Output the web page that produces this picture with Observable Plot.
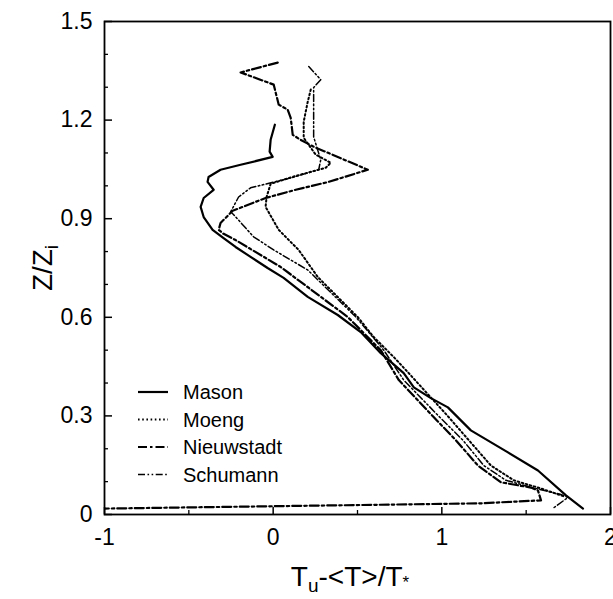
<!DOCTYPE html>
<html><head><meta charset="utf-8">
<script src="https://cdn.jsdelivr.net/npm/d3@7"></script>
<script src="https://cdn.jsdelivr.net/npm/@observablehq/plot@0.6"></script>
<style>html,body{margin:0;padding:0;background:#fff;overflow:hidden;}</style>
</head><body><div id="chart"></div>
<script>
const seriesNames = ["Mason", "Moeng", "Nieuwstadt", "Schumann"];

const masonX = [0.01,-0.015,-0.021,-0.003,-0.193,-0.312,-0.383,-0.389,-0.353,-0.412,-0.430,-0.412,-0.359,-0.294,-0.223,-0.134,-0.033,0.062,0.205,0.383,0.519,0.638,0.774,0.834,0.935,1.036,1.172,1.392,1.570,1.736,1.837];
const masonZ = [1.186,1.140,1.104,1.088,1.064,1.049,1.027,1.012,0.988,0.963,0.936,0.905,0.866,0.841,0.814,0.784,0.750,0.720,0.662,0.607,0.555,0.491,0.430,0.387,0.354,0.326,0.256,0.189,0.134,0.058,0.018];

const moengX = [0.223,0.205,0.181,0.181,0.252,0.341,0.312,0.134,-0.015,-0.039,-0.045,0.033,0.151,0.264,0.359,0.501,0.596,0.715,0.804,1.036,1.160,1.291,1.427,1.588,1.724];
const moengZ = [1.293,1.256,1.195,1.146,1.095,1.070,1.055,1.030,1.006,0.966,0.936,0.866,0.805,0.723,0.674,0.601,0.540,0.479,0.430,0.299,0.226,0.149,0.104,0.079,0.055];

const nieuwstadtX = [0.027,-0.193,0.003,0.033,0.086,0.104,0.116,0.163,0.240,0.561,0.329,0.134,-0.045,-0.240,-0.312,-0.323,-0.294,-0.223,-0.056,0.045,0.228,0.442,0.638,0.745,0.947,1.083,1.214,1.350,1.528,1.570,1.588,1.231,-1.0];
const nieuwstadtZ = [1.375,1.345,1.308,1.247,1.232,1.207,1.155,1.140,1.119,1.049,1.012,0.988,0.963,0.924,0.887,0.866,0.854,0.835,0.784,0.753,0.683,0.601,0.500,0.409,0.299,0.226,0.149,0.098,0.082,0.073,0.043,0.034,0.018];

const schumannX = [0.211,0.282,0.240,0.240,0.240,0.282,0.270,0.104,-0.134,-0.205,-0.252,-0.234,-0.116,0.003,0.205,0.490,0.656,0.774,0.982,1.125,1.249,1.380,1.558,1.706,1.748,1.665];
const schumannZ = [1.363,1.323,1.299,1.262,1.149,1.079,1.049,1.024,0.994,0.966,0.921,0.912,0.845,0.805,0.744,0.601,0.500,0.409,0.299,0.226,0.149,0.104,0.079,0.061,0.052,0.021];

const xTicks = [-1, 0, 1, 2];
const xMinorTicks = [-0.5, 0.5, 1.5];
const yTicks = [0, 0.3, 0.6, 0.9, 1.2, 1.5];
const yMinorTicks = [0.1, 0.2, 0.4, 0.5, 0.7, 0.8, 1.0, 1.1, 1.3, 1.4];

const xs = [masonX, moengX, nieuwstadtX, schumannX];
const zs = [masonZ, moengZ, nieuwstadtZ, schumannZ];
const rows = [];
seriesNames.forEach((s, i) => xs[i].forEach((x, j) => rows.push({series: s, x, z: zs[i][j]})));

const styles = {
  Mason: {strokeWidth: 2.2, dash: null},
  Moeng: {strokeWidth: 2, dash: "1.6,2.6"},
  Nieuwstadt: {strokeWidth: 2.2, dash: "9,3,2.5,3"},
  Schumann: {strokeWidth: 1.5, dash: "7,2.5,1.6,2.5,1.6,2.5"}
};

const font = "'Liberation Sans', Arial, Helvetica, sans-serif";

const lineMarks = seriesNames.map(s => Plot.line(rows.filter(r => r.series === s), {
  x: "x", y: "z", stroke: "black", strokeWidth: styles[s].strokeWidth,
  strokeDasharray: styles[s].dash, curve: "linear", clip: true
}));

const chart = Plot.plot({
  width: 613, height: 599,
  marginLeft: 104, marginRight: 3, marginTop: 21, marginBottom: 85,
  x: {domain: [-1, 2]},
  y: {domain: [0, 1.5]},
  style: {fontFamily: font, background: "white", color: "black"},
  marks: [
    Plot.axisY({ticks: yTicks, tickSize: -8, tickPadding: 20, fontSize: 23, tickFormat: d => d === 0 ? "0" : d.toFixed(1), label: null, strokeWidth: 1.5}),
    Plot.axisY({ticks: yMinorTicks, tickSize: -4, tickFormat: () => "", label: null, strokeWidth: 1.3}),
    Plot.axisX({ticks: xTicks, tickSize: -7, tickPadding: 21, fontSize: 23, tickFormat: d => String(d), label: null, strokeWidth: 1.5}),
    Plot.axisX({ticks: xMinorTicks, tickSize: -4, tickFormat: () => "", label: null, strokeWidth: 1.3}),
    ...lineMarks,
    Plot.frame({stroke: "black", strokeWidth: 1.8})
  ]
});
document.getElementById("chart").appendChild(chart);

const svg = d3.select(chart);
// x axis title
const xt = svg.append("text").attr("x", 350).attr("y", 586).attr("text-anchor", "middle")
  .attr("font-family", font).attr("font-size", 28).attr("fill", "black");
xt.append("tspan").text("T");
xt.append("tspan").attr("font-size", 19).attr("dy", 6).text("u");
xt.append("tspan").attr("dy", -6).text("-<T>/T");
xt.append("tspan").attr("font-size", 17).attr("dy", 2).text("*");
// y axis title
const yt = svg.append("text").attr("transform", "translate(52,268) rotate(-90)").attr("text-anchor", "middle")
  .attr("font-family", font).attr("font-size", 28).attr("fill", "black");
yt.append("tspan").text("Z/Z");
yt.append("tspan").attr("font-size", 19).attr("dy", 6).text("i");
// legend
const lg = svg.append("g").attr("font-family", font).attr("font-size", 20).attr("text-anchor", "start");
seriesNames.forEach((s, i) => {
  const y = 392 + 27.5 * i;
  lg.append("line").attr("x1", 138).attr("x2", 168).attr("y1", y).attr("y2", y)
    .attr("stroke", "black").attr("stroke-width", styles[s].strokeWidth)
    .attr("stroke-dasharray", styles[s].dash);
  lg.append("text").attr("x", 183).attr("y", y).attr("dy", "0.36em").attr("fill", "black")
    .attr("text-anchor", "start").text(s);
});
</script>
</body></html>
